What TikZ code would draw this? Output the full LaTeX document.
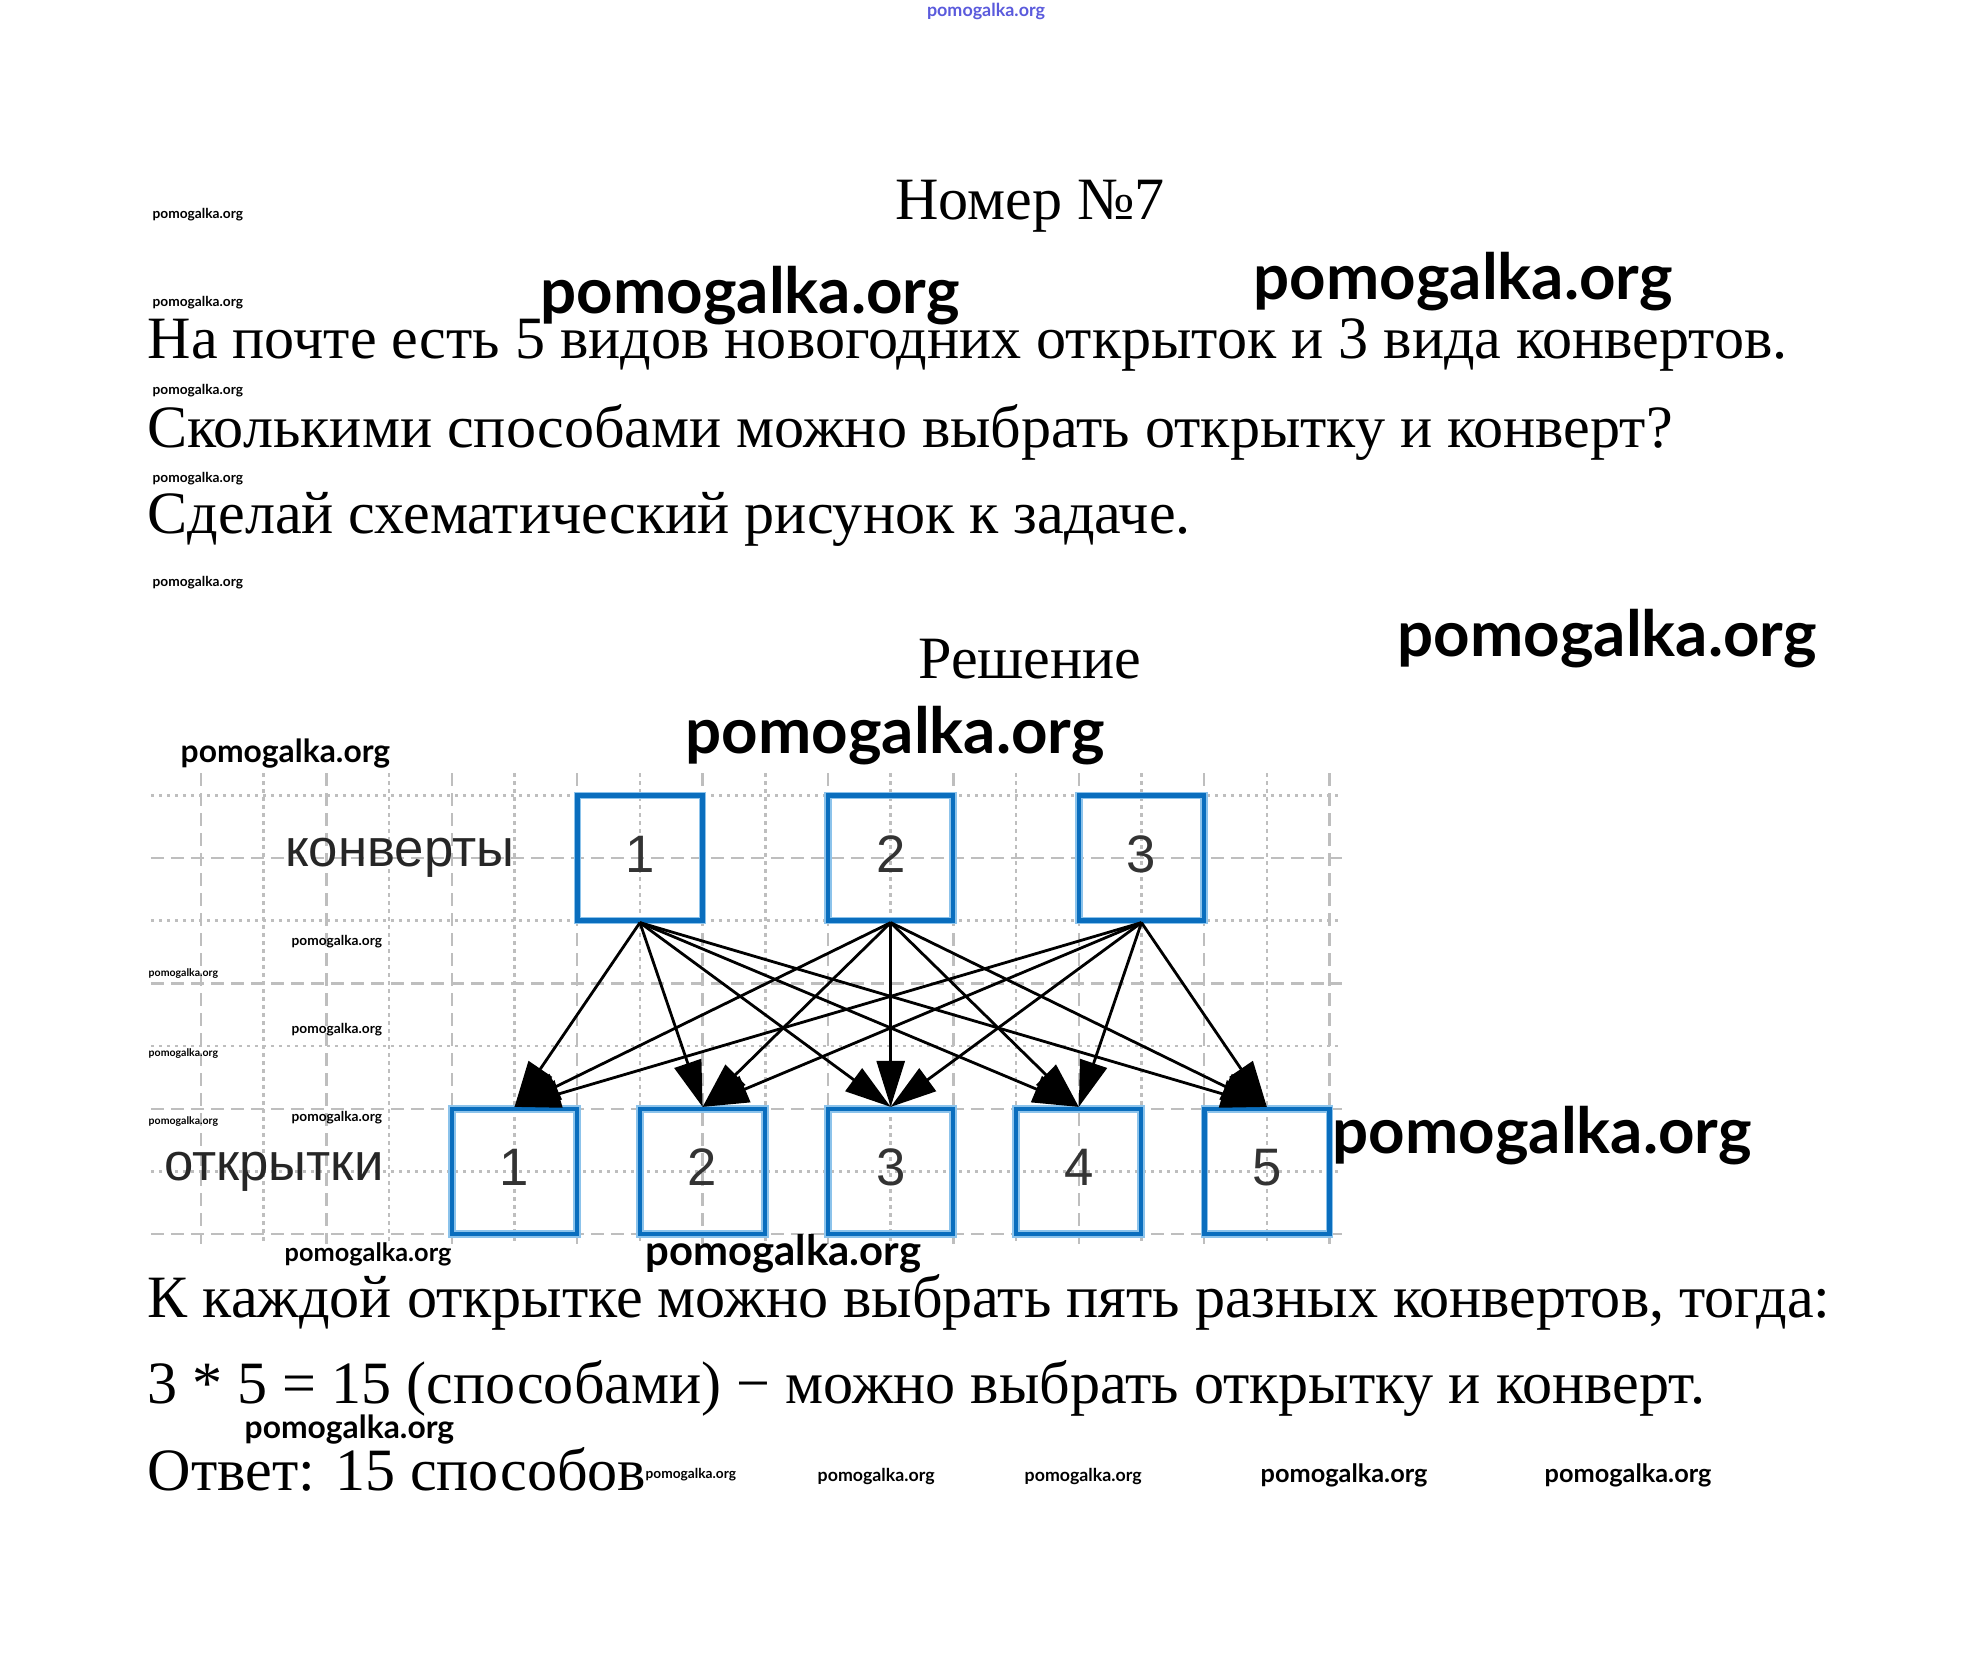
\documentclass[tikz,border=0pt]{standalone}
\usepackage{fontspec}
\setmainfont{Liberation Serif}
\newfontfamily\labelfont{Liberation Sans}
\newfontfamily\wmfont{Lato}
\usepackage{tikz}
\usetikzlibrary{arrows.meta, positioning}
\definecolor{boxblue}{RGB}{10,110,190}
\definecolor{boxhalo}{RGB}{140,195,235}
\definecolor{gridgray}{RGB}{190,190,190}
\definecolor{wmblue}{RGB}{90,90,220}
\tikzset{%
	every card/.style={
		draw=boxblue,
		line width=1.2pt,
		preaction={draw=boxhalo, line width=2.2pt},
		minimum size=12.5mm,
		inner sep=0pt,
		text depth=0.8mm,
		text=black!80,
		font=\labelfont\fontsize{15}{15}\selectfont
	},
	grid dash/.style={gridgray, line width=0.7pt, dash pattern=on 1.3mm off 0.7mm},
	grid dot/.style={gridgray, line width=0.7pt, dash pattern=on 0.35mm off 0.45mm},
	link/.style={line width=0.8pt, -{Triangle[length=4.6mm, width=2.8mm]}},
	task text/.style={anchor=base west, inner sep=0pt, font=\fontsize{17.1}{20}\selectfont},
	wm/.style={anchor=west, inner sep=0pt, font=\wmfont\bfseries\fontsize{#1}{#1}\selectfont},
}
\begin{document}
\begin{tikzpicture}[x=0.1mm, y=-0.1mm]
	\useasboundingbox (0,0) rectangle (1970,1675);
	
	% Task text
	\node[task text, anchor=base] (title) at (1030,219) {Номер №7};
	\node[task text] (q1) at (147,358) {На почте есть 5 видов новогодних открыток и 3 вида конвертов.};
	\node[task text] (q2) at (147,447) {Сколькими способами можно выбрать открытку и конверт?};
	\node[task text] (q3) at (147,533) {Сделай схематический рисунок к задаче.};
	\node[task text, anchor=base] (sol) at (1030,678) {Решение};
	\node[task text] (a1) at (147,1317) {К каждой открытке можно выбрать пять разных конвертов, тогда:};
	\node[task text] (a2) at (147,1403) {3 * 5 = 15 (способами) − можно выбрать открытку и конверт.};
	\node[task text] (a3) at (147,1490) {Ответ: 15 способов};
	
	% Scheme on the grid
	\begin{scope}[shift={(201,795.3)}, x=6.27mm, y=-6.27mm]
		\foreach \i in {0,2,...,18} \draw[grid dash] (\i,-0.35) -- (\i,7.16);
		\foreach \i in {1,3,...,17} \draw[grid dot] (\i,-0.35) -- (\i,7.16);
		\foreach \j in {1,3,5,7} \draw[grid dash] (-0.8,\j) -- (18.2,\j);
		\foreach \j in {0,2,4,6} \draw[grid dot] (-0.8,\j) -- (18.2,\j);
		
		\node[text=black!85, font=\labelfont\fontsize{15}{15}\selectfont] (envlabel) at (3.17,1) {конверты};
		\node[text=black!85, font=\labelfont\fontsize{15}{15}\selectfont] (cardlabel) at (1.16,6) {открытки};
		
		\foreach \n/\x in {1/7, 2/11, 3/15}
			\node[every card] (k\n) at (\x,1) {\n};
		\foreach \n/\x in {1/5, 2/8, 3/11, 4/14, 5/17}
			\node[every card] (o\n) at (\x,6) {\n};
		
		\foreach \s in {1,2,3}
			\foreach \t in {1,...,5}
				\draw[link] (k\s.south) -- (o\t.north);
	\end{scope}
	
	% Watermarks
	\node[wm=5.1, text=wmblue, anchor=center] (w0) at (986,11) {pomogalka.org};
	\foreach \y [count=\c] in {215,303,391,479,583}
		\node[wm=3.9] (wl\c) at (152,\y) {pomogalka.org};
	\foreach \y [count=\c] in {942,1030,1118}
		\node[wm=3.9] (wd\c) at (291,\y) {pomogalka.org};
	\foreach \y [count=\c] in {974,1054,1122}
		\node[wm=3.0] (wt\c) at (148,\y) {pomogalka.org};
	\node[wm=9.05] (wm1) at (180,754) {pomogalka.org};
	\node[wm=7.2] (wm2) at (284,1254) {pomogalka.org};
	\node[wm=9.05] (wm3) at (244,1430) {pomogalka.org};
	\node[wm=11.9] (wm4) at (645,1254) {pomogalka.org};
	\node[wm=3.9] (wb1) at (645,1475) {pomogalka.org};
	\node[wm=5.05] (wb2) at (817,1476) {pomogalka.org};
	\node[wm=5.05] (wb3) at (1024,1476) {pomogalka.org};
	\node[wm=7.2] (wb4) at (1260,1475) {pomogalka.org};
	\node[wm=7.2] (wb5) at (1544,1475) {pomogalka.org};
	\node[wm=18.1] (wg1) at (540,296) {pomogalka.org};
	\node[wm=18.1] (wg2) at (1253,282) {pomogalka.org};
	\node[wm=18.1] (wg3) at (1397,639) {pomogalka.org};
	\node[wm=18.1] (wg4) at (685,736) {pomogalka.org};
	\node[wm=18.1] (wg5) at (1332,1136) {pomogalka.org};
\end{tikzpicture}
\end{document}
